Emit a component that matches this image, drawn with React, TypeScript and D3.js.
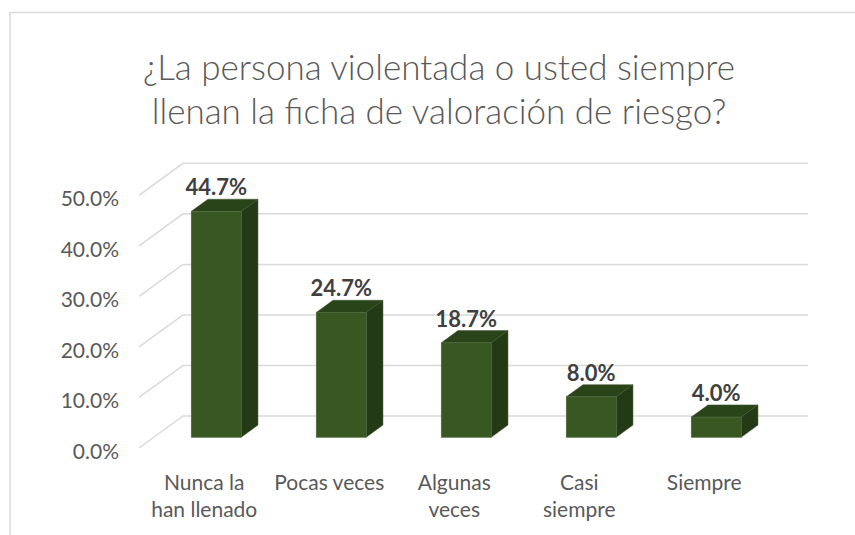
import React from 'react'
import { scaleBand, scaleLinear } from 'd3'

const categories = ['Nunca la han llenado', 'Pocas veces', 'Algunas veces', 'Casi siempre', 'Siempre']
const categoryLines = [['Nunca la', 'han llenado'], ['Pocas veces'], ['Algunas', 'veces'], ['Casi', 'siempre'], ['Siempre']]
const values = [44.7, 24.7, 18.7, 8.0, 4.0]
const yTicks = [0, 10, 20, 30, 40, 50]
const titleLines = ['¿La persona violentada o usted siempre', 'llenan la ficha de valoración de riesgo?']

const FONT = 'Lato, "Open Sans", sans-serif'

const App = () => {
  const width = 855
  const height = 535

  // back wall of the 3d plot, and the offset of the floor's front edge
  const wallLeft = 183
  const wallRight = 808
  const FX = -44
  const FY = 32
  const barT = 0.665 // where the bars' front face sits between back and front
  const depthT = 0.38

  const yBack = scaleLinear().domain([0, 50]).range([416, 163.3])
  const yBar = (v: number) => yBack(v) + barT * FY

  const x = scaleBand()
    .domain(categories)
    .range([wallLeft + barT * FX, wallRight + barT * FX])
    .paddingInner(0.6)
    .paddingOuter(0.3)
  const bw = x.bandwidth()
  const dx = -FX * depthT
  const dy = FY * depthT

  return (
    <svg width={width} height={height} style={{ position: 'absolute', left: 0, top: 0, display: 'block' }}>
      <rect x={0} y={0} width={width} height={height} fill="#fff" />
      {/* chart frame */}
      <path d={`M10,${height} L10,12.5 L${width},12.5`} fill="none" stroke="#d9d9d9" strokeWidth={1.5} />

      <g fontFamily={FONT} fill="#595959" textAnchor="middle" fontSize={35} fontWeight={300}>
        {titleLines.map((t, i) => (
          <text key={t} x={439} y={80 + i * 44}>{t}</text>
        ))}
      </g>

      {/* gridlines: floor diagonal + back wall */}
      {yTicks.map(t => (
        <polyline
          key={`grid-${t}`}
          points={`${wallLeft + FX},${yBack(t) + FY} ${wallLeft},${yBack(t)} ${wallRight},${yBack(t)}`}
          fill="none"
          stroke="#d9d9d9"
          strokeWidth={1.5}
        />
      ))}

      <g fontFamily={FONT} fill="#595959" fontSize={21} textAnchor="end">
        {yTicks.map(t => (
          <text key={`yl-${t}`} x={wallLeft + FX - 20} y={yBack(t) + FY + 11}>
            {t.toFixed(1)}%
          </text>
        ))}
      </g>

      {categories.map((c, i) => {
        const x0 = x(c) as number
        const y0 = yBar(0)
        const yt = yBar(values[i])
        return (
          <g key={`bar-${c}`}>
            <polygon
              points={`${x0 + bw},${yt} ${x0 + bw + dx},${yt - dy} ${x0 + bw + dx},${y0 - dy} ${x0 + bw},${y0}`}
              fill="#243a16"
              stroke="#3a5230"
              strokeWidth={0.5}
            />
            <polygon
              points={`${x0},${yt} ${x0 + dx},${yt - dy} ${x0 + bw + dx},${yt - dy} ${x0 + bw},${yt}`}
              fill="#2a4419"
              stroke="#3a5230"
              strokeWidth={0.5}
            />
            <rect x={x0} y={yt} width={bw} height={y0 - yt} fill="#385723" stroke="#4b6a3a" strokeWidth={0.6} />
            <text
              x={x0 + bw / 2}
              y={yt - 16}
              textAnchor="middle"
              fontFamily={FONT}
              fontWeight="bold"
              fontSize={22}
              fill="#404040"
            >
              {values[i].toFixed(1)}%
            </text>
          </g>
        )
      })}

      <g fontFamily={FONT} fill="#595959" fontSize={21} textAnchor="middle">
        {categories.map((c, i) => (
          <text key={`cl-${c}`} x={(x(c) as number) + bw / 2 - 12} y={490}>
            {categoryLines[i].map((l, j) => (
              <tspan key={l} x={(x(c) as number) + bw / 2 - 12} dy={j === 0 ? 0 : 27}>{l}</tspan>
            ))}
          </text>
        ))}
      </g>
    </svg>
  )
}

export default App
